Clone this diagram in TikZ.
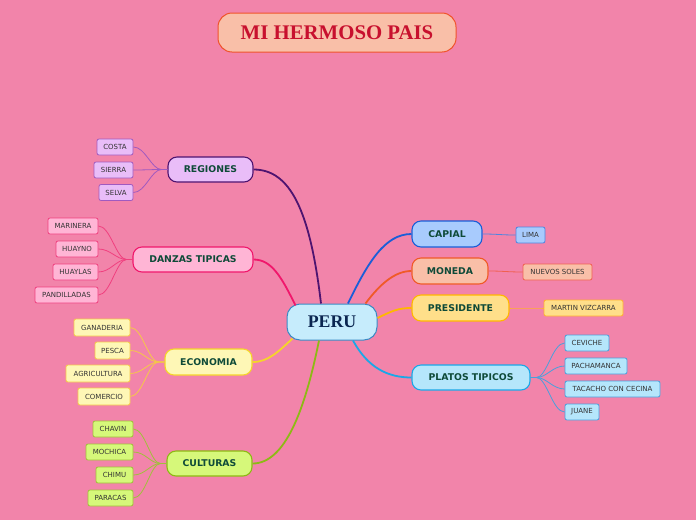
\documentclass[tikz,border=0pt]{standalone}
\usepackage{fontspec}
\setmainfont{Liberation Serif}
\newfontfamily\leaffont{DejaVu Sans}
\newfontfamily\branchfont{DejaVu Sans}
\definecolor{bg}{HTML}{F284AA}
\definecolor{txtgreen}{HTML}{0E4A38}
\definecolor{leaftxt}{HTML}{333333}
\definecolor{titlefill}{HTML}{F9BFA8}
\definecolor{titledraw}{HTML}{F0522A}
\definecolor{titletxt}{HTML}{C8102E}
\definecolor{perufill}{HTML}{C6ECFC}
\definecolor{perudraw}{HTML}{3A8AC4}
\definecolor{perutxt}{HTML}{0A2550}
\definecolor{regfill}{HTML}{E9BDF8}
\definecolor{regdraw}{HTML}{4E1470}
\definecolor{regleaf}{HTML}{A05AC0}
\definecolor{danfill}{HTML}{FFB5D5}
\definecolor{dandraw}{HTML}{F0186C}
\definecolor{danleaf}{HTML}{F0407F}
\definecolor{ecofill}{HTML}{FEF7B6}
\definecolor{ecodraw}{HTML}{F5D52A}
\definecolor{ecoleaf}{HTML}{F5C848}
\definecolor{culfill}{HTML}{D6F87A}
\definecolor{culdraw}{HTML}{8DBA14}
\definecolor{culleaf}{HTML}{A0C03A}
\definecolor{capfill}{HTML}{A8CBFD}
\definecolor{capdraw}{HTML}{1A5ED8}
\definecolor{capleaf}{HTML}{4E85E0}
\definecolor{monfill}{HTML}{F9BFA8}
\definecolor{mondraw}{HTML}{F05A28}
\definecolor{monleaf}{HTML}{F06050}
\definecolor{prefill}{HTML}{FFDF8A}
\definecolor{predraw}{HTML}{FFB800}
\definecolor{preleaf}{HTML}{FFB030}
\definecolor{plafill}{HTML}{B5E6FB}
\definecolor{pladraw}{HTML}{1AA8E8}
\definecolor{plaleaf}{HTML}{4AA0DC}
\tikzset{
  title/.style={draw=titledraw, fill=titlefill, line width=1pt, rounded corners=14pt,
    minimum width=238pt, minimum height=39pt, inner sep=0pt,
    font=\fontsize{20.8}{22}\selectfont\bfseries, text=titletxt},
  center/.style={draw=perudraw, fill=perufill, line width=1pt, rounded corners=13pt,
    minimum width=90pt, minimum height=36pt, inner sep=0pt,
    font=\fontsize{17.8}{19}\selectfont\bfseries, text=perutxt},
  branch/.style={line width=1.1pt, rounded corners=9pt, minimum height=25pt, inner sep=0pt,
    font=\branchfont\bfseries\fontsize{9.3}{10}\selectfont, text=txtgreen},
  leaf/.style={line width=0.8pt, rounded corners=2pt, minimum height=16pt, inner sep=0pt,
    font=\leaffont\fontsize{7}{8}\selectfont, text=leaftxt},
  mainline/.style={line width=1.8pt},
  leafline/.style={line width=0.8pt}
}
\begin{document}
\begin{tikzpicture}[x=1pt,y=-1pt]
\fill[bg] (0,0) rectangle (696,520);
\useasboundingbox (0,0) rectangle (696,520);

\node[title] (title) at (337,32.5) {MI HERMOSO PAIS};
\node[center] (peru) at (332,322) {PERU};

% branches
\node[branch, draw=regdraw, fill=regfill, minimum width=85pt] (reg) at (210.5,169.5) {REGIONES};
\node[branch, draw=dandraw, fill=danfill, minimum width=120pt] (dan) at (193,259.5) {DANZAS TIPICAS};
\node[branch, draw=ecodraw, fill=ecofill, minimum width=87pt, minimum height=26pt] (eco) at (208.5,362) {ECONOMIA};
\node[branch, draw=culdraw, fill=culfill, minimum width=85pt] (cul) at (209.5,463.5) {CULTURAS};
\node[branch, draw=capdraw, fill=capfill, minimum width=70pt, minimum height=26pt] (cap) at (447,234) {CAPIAL};
\node[branch, draw=mondraw, fill=monfill, minimum width=76pt, minimum height=26pt] (mon) at (450,271) {MONEDA};
\node[branch, draw=predraw, fill=prefill, minimum width=97pt, minimum height=26pt] (pre) at (460.5,308) {PRESIDENTE};
\node[branch, draw=pladraw, fill=plafill, minimum width=118pt] (pla) at (471,377.5) {PLATOS TIPICOS};

% main connectors
\draw[mainline, regdraw] (peru.north) ++(-11,0) coordinate (p1) .. controls (310,210) and (290,169.5) .. (reg.east);
\draw[mainline, dandraw] (peru.north west) ++(9,2) coordinate (p2) .. controls (282,278) and (272,259.5) .. (dan.east);
\draw[mainline, ecodraw] (peru.south west) ++(6,-2) coordinate (p3) .. controls (278,352) and (268,362) .. (eco.east);
\draw[mainline, culdraw] (peru.south) ++(-13,0) coordinate (p4) .. controls (305,410) and (285,463.5) .. (cul.east);
\draw[mainline, capdraw] (peru.north) ++(16,0) coordinate (p5) .. controls (368,262) and (385,234) .. (cap.west);
\draw[mainline, mondraw] (peru.north east) ++(-12,0) coordinate (p6) .. controls (380,284) and (395,271) .. (mon.west);
\draw[mainline, predraw] (peru.east) ++(0,-4) coordinate (p7) .. controls (392,311) and (398,308) .. (pre.west);
\draw[mainline, pladraw] (peru.south) ++(21,0) coordinate (p8) .. controls (368,368) and (388,377.5) .. (pla.west);

% leaves
\node[leaf, draw=regleaf, fill=regfill, minimum width=36pt] (costa) at (115,147) {COSTA};
\node[leaf, draw=regleaf, fill=regfill, minimum width=39pt] (sierra) at (113.5,170) {SIERRA};
\node[leaf, draw=regleaf, fill=regfill, minimum width=34pt] (selva) at (116,192.5) {SELVA};

\node[leaf, draw=danleaf, fill=danfill, minimum width=50pt] (marinera) at (73,226) {MARINERA};
\node[leaf, draw=danleaf, fill=danfill, minimum width=42pt] (huayno) at (77,249) {HUAYNO};
\node[leaf, draw=danleaf, fill=danfill, minimum width=45pt] (huaylas) at (75.5,272) {HUAYLAS};
\node[leaf, draw=danleaf, fill=danfill, minimum width=63pt] (pandilladas) at (66.5,295) {PANDILLADAS};

\node[leaf, draw=ecoleaf, fill=ecofill, minimum width=56pt, minimum height=17pt] (ganaderia) at (102,327.5) {GANADERIA};
\node[leaf, draw=ecoleaf, fill=ecofill, minimum width=35pt, minimum height=17pt] (pesca) at (112.5,350.5) {PESCA};
\node[leaf, draw=ecoleaf, fill=ecofill, minimum width=64pt, minimum height=17pt] (agricultura) at (98,373.5) {AGRICULTURA};
\node[leaf, draw=ecoleaf, fill=ecofill, minimum width=52pt, minimum height=17pt] (comercio) at (104,396.5) {COMERCIO};

\node[leaf, draw=culleaf, fill=culfill, minimum width=40pt] (chavin) at (113,429) {CHAVIN};
\node[leaf, draw=culleaf, fill=culfill, minimum width=47pt] (mochica) at (109.5,452) {MOCHICA};
\node[leaf, draw=culleaf, fill=culfill, minimum width=37pt] (chimu) at (114.5,475) {CHIMU};
\node[leaf, draw=culleaf, fill=culfill, minimum width=45pt] (paracas) at (110.5,498) {PARACAS};

\node[leaf, draw=capleaf, fill=capfill, minimum width=29pt] (lima) at (530.5,235) {LIMA};
\node[leaf, draw=monleaf, fill=monfill, minimum width=69pt] (soles) at (557.5,272) {NUEVOS SOLES};
\node[leaf, draw=preleaf, fill=prefill, minimum width=79pt] (martin) at (583.5,308) {MARTIN VIZCARRA};

\node[leaf, draw=plaleaf, fill=plafill, minimum width=44pt] (ceviche) at (587,343) {CEVICHE};
\node[leaf, draw=plaleaf, fill=plafill, minimum width=62pt] (pachamanca) at (596,366) {PACHAMANCA};
\node[leaf, draw=plaleaf, fill=plafill, minimum width=95pt] (tacacho) at (612.5,389) {TACACHO CON CECINA};
\node[leaf, draw=plaleaf, fill=plafill, minimum width=34pt] (juane) at (582,412) {JUANE};

% leaf connectors (left side)
\foreach \p/\c/\l in {reg/regleaf/costa, reg/regleaf/sierra, reg/regleaf/selva,
                      dan/danleaf/marinera, dan/danleaf/huayno, dan/danleaf/huaylas, dan/danleaf/pandilladas,
                      eco/ecoleaf/ganaderia, eco/ecoleaf/pesca, eco/ecoleaf/agricultura, eco/ecoleaf/comercio,
                      cul/culleaf/chavin, cul/culleaf/mochica, cul/culleaf/chimu, cul/culleaf/paracas}
  \draw[leafline, \c] (\p.west) -- ++(-6,0) .. controls +(-10,0) and +(12,0) .. (\l.east);

% leaf connectors (right side)
\draw[leafline, capleaf] (cap.east) .. controls +(15,0) and +(-15,0) .. (lima.west);
\draw[leafline, monleaf] (mon.east) .. controls +(15,0) and +(-15,0) .. (soles.west);
\draw[leafline, preleaf] (pre.east) .. controls +(15,0) and +(-15,0) .. (martin.west);
\foreach \l in {ceviche, pachamanca, tacacho, juane}
  \draw[leafline, plaleaf] (pla.east) -- ++(6,0) .. controls +(10,0) and +(-12,0) .. (\l.west);
\end{tikzpicture}
\end{document}
